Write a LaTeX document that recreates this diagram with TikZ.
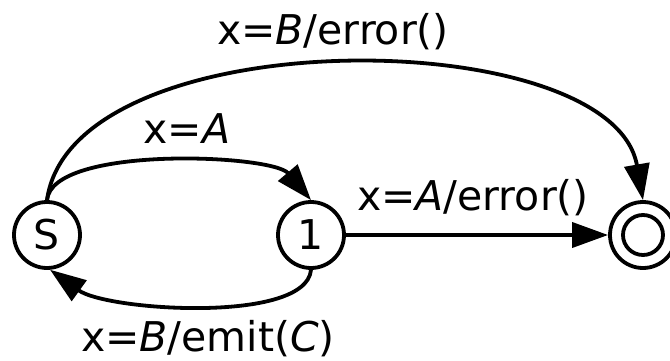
\documentclass[tikz,border=0pt]{standalone}
\usepackage{fontspec}
\setmainfont{DejaVu Sans}
\usetikzlibrary{arrows.meta}
\tikzset{
  state/.style={circle, draw, line width=3.8pt, minimum size=66pt, inner sep=0pt,
                font=\fontsize{41}{49}\selectfont},
  trans/.style={-{Triangle[length=36pt, width=25pt]}, line width=3.8pt},
  lbl/.style={anchor=base, inner sep=0pt, font=\fontsize{41}{49}\selectfont},
}
\begin{document}
\begin{tikzpicture}[x=1pt, y=1pt]
  \useasboundingbox (0,0) rectangle (670,360);
  \foreach \n/\x/\t in {S/47/S, one/311/1, F/643/{}}{
    \node[state] (\n) at (\x,125) {\t};
  }
  \node[state, minimum size=40pt] (Fin) at (F.center) {};
  % transitions
  \draw[trans] (S.north) .. controls +(5,55) and +(-39,46) .. (one.north);
  \draw[trans] (one.south) .. controls +(-5,-54) and +(57,-41) .. (S.-85);
  \draw[trans] (S.north) .. controls +(25,182) and +(-31,178) .. (F.north);
  \draw[trans] (one) -- (F);
  % labels
  \node[lbl] (lBerr) at (333,316) {x=\textit{B}/error()};
  \node[lbl] (lA) at (187,217) {x=\textit{A}};
  \node[lbl] (lAerr) at (473,150) {x=\textit{A}/error()};
  \node[lbl] (lBemit) at (208,9) {x=\textit{B}/emit(\textit{C})};
\end{tikzpicture}
\end{document}
